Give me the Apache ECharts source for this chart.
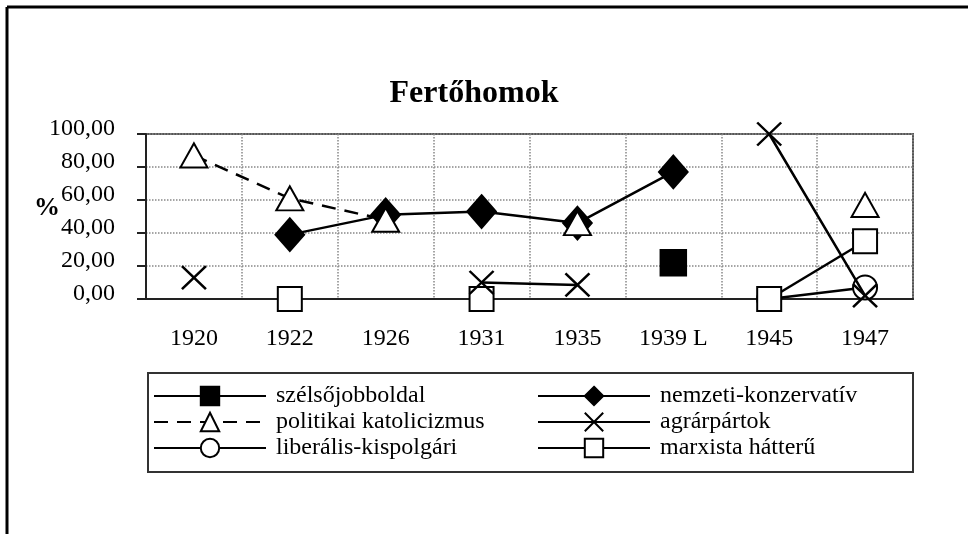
<!DOCTYPE html>
<html>
<head>
<meta charset="utf-8">
<script src="https://cdn.jsdelivr.net/npm/echarts@6/dist/echarts.min.js"></script>
<style>
html, body { margin: 0; padding: 0; background: #fff; }
#container { width: 968px; height: 534px; }
</style>
</head>
<body>
<div id="container"></div>
<script>
var years = ['1920', '1922', '1926', '1931', '1935', '1939 L', '1945', '1947'];
var yTicks = [0, 20, 40, 60, 80, 100];
var szelso = [null, null, null, null, null, 22, null, null];
var nemzeti = [null, 39, 51, 53, 46, 77, null, null];
var politikai = [87, 61, 48, null, 46, null, null, 57];
var agrar = [13, null, null, 10, 8.5, null, 100, 2];
var liberalis = [null, null, null, null, null, null, 0, 7];
var marxista = [null, 0, null, 0, null, null, 0, 35];

var serif = "'Liberation Serif', 'Times New Roman', serif";
var crossPath = 'path://M0,0L10,10M10,0L0,10';

var dom = document.getElementById("container");
var myChart = echarts.init(dom);

function mkSeries(name, data, symbol, size, dashed, z) {
    return {
        name: name,
        type: 'line',
        data: data,
        z: z || 2,
        symbol: symbol,
        symbolSize: size,
        showSymbol: true,
        showAllSymbol: true,
        connectNulls: false,
        animation: false,
        lineStyle: { color: '#000', width: 2.5, type: dashed ? [14, 9] : 'solid' },
        itemStyle: { color: '#000', borderColor: '#000', borderWidth: 2.5 }
    };
}

var legendCommon = {
    orient: 'vertical',
    top: 383,
    padding: 0,
    itemGap: 0,
    itemWidth: 112,
    itemHeight: 23,
    textStyle: { fontFamily: serif, fontSize: 24, color: '#000', lineHeight: 26, padding: [0, 0, 0, 5] }
};

option = {
    backgroundColor: '#fff',
    animation: false,
    title: {
        text: 'Fertőhomok',
        left: 469,
        top: 73,
        textAlign: 'center',
        textStyle: { fontFamily: serif, fontSize: 32, fontWeight: 'bold', color: '#000' }
    },
    legend: [
        Object.assign({}, legendCommon, { left: 153, data: ['szélsőjobboldal', 'politikai katolicizmus', 'liberális-kispolgári'] }),
        Object.assign({}, legendCommon, { left: 537, data: ['nemzeti-konzervatív', 'agrárpártok', 'marxista hátterű'] })
    ],
    grid: {
        left: 146, right: 55, top: 134, bottom: 235,
        show: true,
        borderColor: '#555',
        borderWidth: 2
    },
    xAxis: {
        type: 'category',
        data: years,
        boundaryGap: true,
        axisLine: { lineStyle: { color: '#222', width: 2 } },
        axisTick: { length: 7, lineStyle: { color: '#222', width: 2 } },
        axisLabel: { margin: 28, fontFamily: serif, fontSize: 24, color: '#000' },
        splitLine: { show: true, lineStyle: { type: 'dotted', color: '#888', width: 1.5 } }
    },
    yAxis: {
        type: 'value',
        min: 0,
        max: 100,
        interval: 20,
        name: '%',
        nameLocation: 'middle',
        nameRotate: 0,
        nameGap: 86,
        nameMoveOverlap: false,
        nameTextStyle: { fontFamily: serif, fontSize: 26, fontWeight: 'bold', color: '#000', verticalAlign: 'bottom', lineHeight: 16 },
        axisLine: { show: true, lineStyle: { color: '#222', width: 2 } },
        axisTick: { show: true, length: 9, lineStyle: { color: '#222', width: 2 } },
        axisLabel: {
            margin: 31,
            fontFamily: serif, fontSize: 24, color: '#000',
            verticalAlign: 'bottom',
            lineHeight: 10,
            formatter: function (v) { return yTicks.indexOf(v) > -1 ? v.toFixed(2).replace('.', ',') : ''; }
        },
        splitLine: { show: true, lineStyle: { type: 'dotted', color: '#888', width: 1.5 } }
    },
    graphic: [
        { type: 'line', shape: { x1: 7, y1: 7, x2: 7, y2: 534 }, style: { stroke: '#000', lineWidth: 3 } },
        { type: 'line', shape: { x1: 7, y1: 7, x2: 968, y2: 7 }, style: { stroke: '#000', lineWidth: 3 } },
        { type: 'rect', shape: { x: 148, y: 373, width: 765, height: 99 }, style: { fill: 'none', stroke: '#333', lineWidth: 2 } }
    ],
    series: [
        mkSeries('szélsőjobboldal', szelso, 'rect', 25, false),
        mkSeries('nemzeti-konzervatív', nemzeti, 'diamond', [28, 32], false),
        mkSeries('politikai katolicizmus', politikai, 'emptyTriangle', [27, 24], true),
        mkSeries('agrárpártok', agrar, crossPath, [24, 23], false, 4),
        mkSeries('liberális-kispolgári', liberalis, 'emptyCircle', 24, false),
        mkSeries('marxista hátterű', marxista, 'emptyRect', 24, false)
    ]
};

if (option && typeof option === "object") {
    myChart.setOption(option, true);
}
</script>
</body>
</html>
